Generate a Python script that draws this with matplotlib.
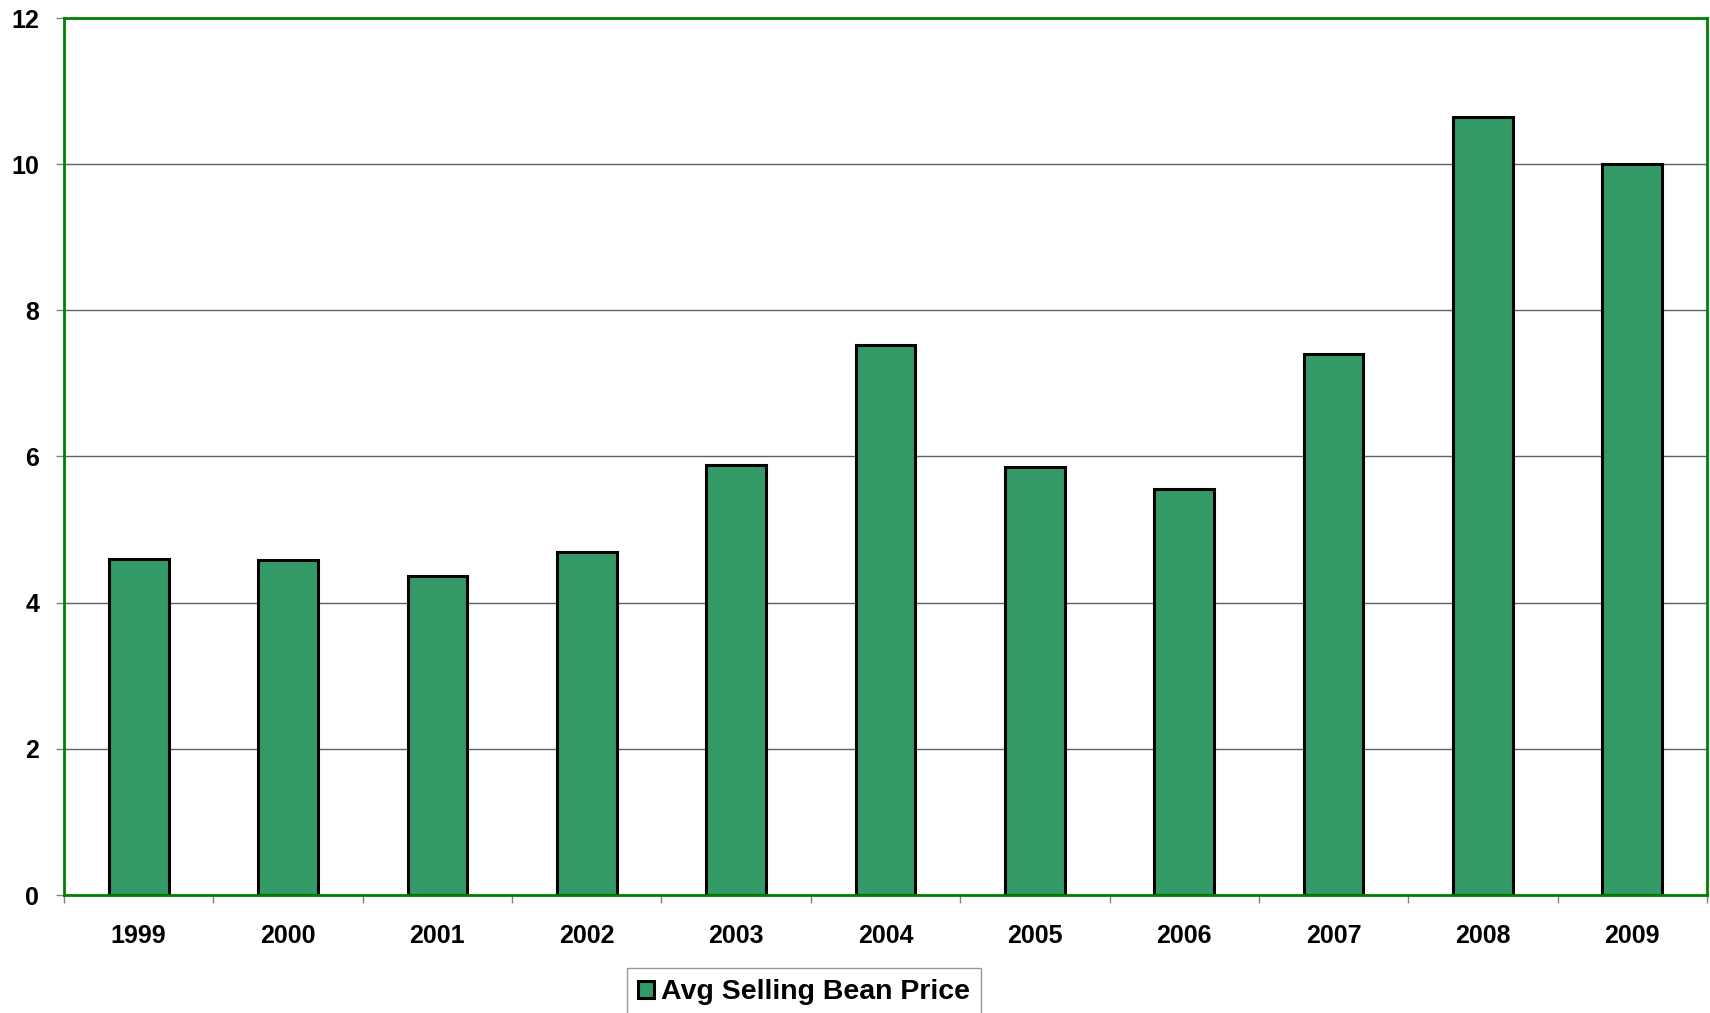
import numpy as np
import matplotlib
matplotlib.use("Agg")
from matplotlib import pyplot as plt
from matplotlib.ticker import FixedLocator

# datos
years = ['1999', '2000', '2001', '2002', '2003', '2004',
         '2005', '2006', '2007', '2008', '2009']
price = [4.60, 4.58, 4.36, 4.70, 5.88, 7.52, 5.85, 5.55, 7.40, 10.65, 10.0]
yticks = [0, 2, 4, 6, 8, 10, 12]

plt.rcParams['font.family'] = 'Liberation Sans'
plt.rcParams['font.weight'] = 'bold'

fig = plt.figure(figsize=(17.1, 10.13), dpi=100)
ax = fig.add_axes([64/1710, 1 - 895/1013, (1707 - 64)/1710, (895 - 18)/1013])

x = np.arange(len(years))
ax.bar(x, price, width=0.4, color='#339966', edgecolor='black', linewidth=2.2,
       label='Avg Selling Bean Price', zorder=3)

ax.set_xlim(-0.5, len(years) - 0.5)
ax.set_ylim(0, 12)
ax.set_yticks(yticks)
ax.set_yticklabels([str(t) for t in yticks], fontsize=18, fontweight='bold')
ax.set_xticks(x)
ax.set_xticklabels(years, fontsize=18, fontweight='bold')
ax.xaxis.set_minor_locator(FixedLocator(np.arange(-0.5, len(years), 1)))

ax.tick_params(axis='x', which='major', length=0, pad=21)
ax.tick_params(axis='x', which='minor', length=6, color='#808080', width=1)
ax.tick_params(axis='y', length=6, color='#808080', width=1, pad=12)

ax.yaxis.grid(True, color='#606060', linewidth=1, zorder=0)
for s in ax.spines.values():
    s.set_color('#008000')
    s.set_linewidth(2)
    s.set_zorder(4)

leg = fig.legend(loc='upper center', bbox_to_anchor=(804/1710, 1 - 968/1013),
                 prop={'weight': 'bold', 'size': 20.5},
                 frameon=True, fancybox=False, edgecolor='#808080',
                 handlelength=0.55, handleheight=0.55, handletextpad=0.25,
                 borderpad=0.4, borderaxespad=0)
leg.get_frame().set_linewidth(1)

fig.savefig('out.png', dpi=100)
